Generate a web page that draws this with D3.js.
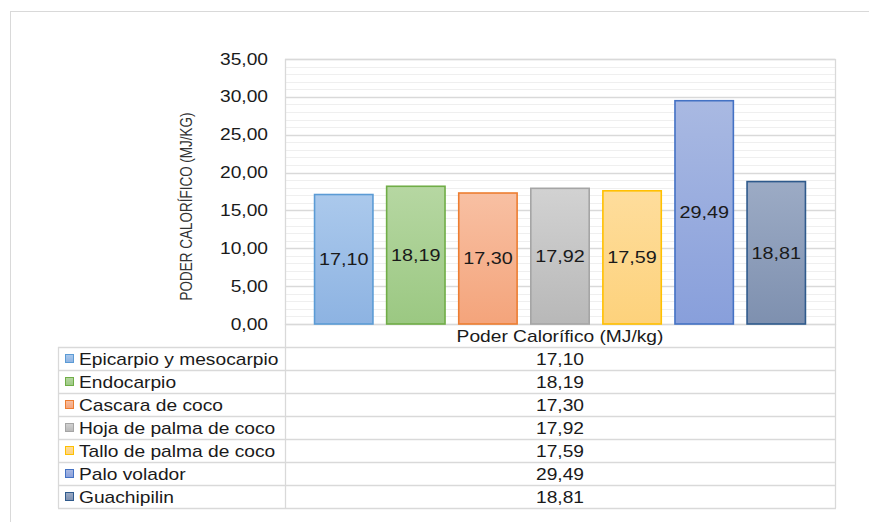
<!DOCTYPE html>
<html><head><meta charset="utf-8">
<script src="https://cdn.jsdelivr.net/npm/d3@7"></script>
<style>body{margin:0;background:#fff}svg{display:block}text{font-family:"Liberation Sans",Arial,sans-serif;fill:#1a1a1a}</style>
</head><body>
<script>
const categories = ["Epicarpio y mesocarpio","Endocarpio","Cascara de coco","Hoja de palma de coco","Tallo de palma de coco","Palo volador","Guachipilin"];
const values = [17.10,18.19,17.30,17.92,17.59,29.49,18.81];
const yTicks = [0,5,10,15,20,25,30,35];
const seriesName = "Poder Calorífico (MJ/kg)";
const yTitle = "PODER CALORÍFICO (MJ/KG)";
const colTop = ["#abc9ec","#b6d7a2","#f8c0a3","#d2d2d2","#fedd9c","#a9b9e2","#9cabc5"];
const colBot = ["#8db3e2","#9bc882","#f4a47b","#b8b8b8","#fdd27c","#889fdb","#7e90af"];
const colStroke = ["#5b9bd5","#70ad47","#ed7d31","#a5a5a5","#ffc000","#4472c4","#2f5a8c"];

const W=869,H=522, SX=1.2;
const fmt = v => v.toFixed(2).replace(".", ",");
const svg = d3.select("body").append("svg").attr("width",W).attr("height",H);
const defs = svg.append("defs");
categories.forEach((c,i)=>{
  const g = defs.append("linearGradient").attr("id","g"+i).attr("x1",0).attr("y1",0).attr("x2",0).attr("y2",1);
  g.append("stop").attr("offset","0%").attr("stop-color",colTop[i]);
  g.append("stop").attr("offset","100%").attr("stop-color",colBot[i]);
});
// outer frame
svg.append("rect").attr("x",10.5).attr("y",11.5).attr("width",900).attr("height",600).attr("fill","none").attr("stroke","#d9d9d9");

const L=285,R=835,T=59,B=324;
const y = d3.scaleLinear().domain([0,35]).range([B,T]);
const x = d3.scaleBand().domain(categories).range([L,R]).paddingInner(0.19).paddingOuter(0.41);

function txt(sel, px, py, s, size, anchor){
  return sel.append("text").attr("transform",`translate(${px},${py}) scale(${SX},1)`)
    .attr("text-anchor",anchor).attr("dy","0.35em").style("font-size",size+"px").text(s);
}

// minor grid
svg.append("g").selectAll("line").data(d3.range(0,36,1).filter(v=>v%5!==0)).join("line")
  .attr("x1",L).attr("x2",R).attr("y1",d=>Math.round(y(d))+0.5).attr("y2",d=>Math.round(y(d))+0.5)
  .attr("stroke","#efefef").attr("stroke-width",1.2);
// major grid
svg.append("g").selectAll("line").data(yTicks).join("line")
  .attr("x1",L).attr("x2",R).attr("y1",d=>Math.round(y(d))+0.5).attr("y2",d=>Math.round(y(d))+0.5)
  .attr("stroke","#d9d9d9").attr("stroke-width",1.3);
// plot border
svg.append("rect").attr("x",L+0.5).attr("y",T+0.5).attr("width",R-L).attr("height",B-T).attr("fill","none").attr("stroke","#d9d9d9").attr("stroke-width",1.3);

// y tick labels
const yt = svg.append("g");
yTicks.forEach(t=>txt(yt,268,y(t),fmt(t),16,"end"));
// y title
svg.append("text").attr("transform",`translate(186,${(T+B)/2+15}) rotate(-90) scale(1,${SX})`)
  .attr("text-anchor","middle").attr("dy","0.35em").style("font-size","13.5px").style("fill","#333").text(yTitle);

// bars
svg.append("g").selectAll("rect").data(categories).join("rect")
  .attr("x",d=>x(d)).attr("width",x.bandwidth())
  .attr("y",(d,i)=>y(values[i])).attr("height",(d,i)=>y(0)-y(values[i]))
  .attr("fill",(d,i)=>`url(#g${i})`).attr("stroke",(d,i)=>colStroke[i]).attr("stroke-width",1.6);
const bl = svg.append("g");
categories.forEach((c,i)=>txt(bl, x(c)+x.bandwidth()/2, (y(values[i])+y(0))/2, fmt(values[i]), 16.5, "middle"));

// data table
const rowH=23, tL=58;
const tg = svg.append("g");
const lc="#d9d9d9";
tg.append("line").attr("x1",R+0.5).attr("x2",R+0.5).attr("y1",B).attr("y2",B+rowH*(categories.length+1)).attr("stroke",lc).attr("stroke-width",1.3);
tg.append("line").attr("x1",L+0.5).attr("x2",L+0.5).attr("y1",B).attr("y2",B+rowH*(categories.length+1)).attr("stroke",lc).attr("stroke-width",1.3);
tg.append("line").attr("x1",tL+0.5).attr("x2",tL+0.5).attr("y1",B+rowH).attr("y2",B+rowH*(categories.length+1)).attr("stroke",lc).attr("stroke-width",1.3);
d3.range(1,categories.length+2).forEach(k=>{
  tg.append("line").attr("x1",tL).attr("x2",R+1).attr("y1",B+rowH*k+0.5).attr("y2",B+rowH*k+0.5).attr("stroke",lc).attr("stroke-width",1.3);
});
txt(tg,(L+R)/2,B+rowH/2+0.5,seriesName,16,"middle");
categories.forEach((c,i)=>{
  const cy = B+rowH*(i+1)+rowH/2+0.5;
  tg.append("rect").attr("x",65.5).attr("y",cy-4.5).attr("width",8).attr("height",8)
    .attr("fill",`url(#g${i})`).attr("stroke",colStroke[i]).attr("stroke-width",1);
  txt(tg,79,cy,c,16,"start");
  txt(tg,(L+R)/2,cy,fmt(values[i]),16,"middle");
});
</script>
</body></html>
